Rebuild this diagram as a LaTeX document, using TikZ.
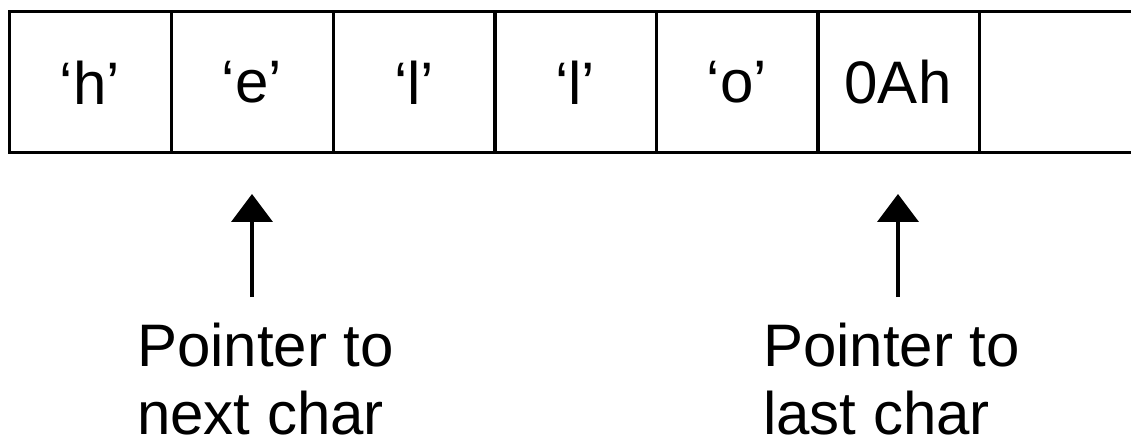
\documentclass[tikz,border=0pt]{standalone}
\usepackage{fontspec}
\setmainfont{Liberation Sans}
\usetikzlibrary{arrows.meta}
\begin{document}
\begin{tikzpicture}[x=1pt,y=-1pt,
  cell/.style={draw, line width=3pt, outer sep=0pt, minimum width=162pt, minimum height=141pt, inner sep=0pt, anchor=north west,
    font=\fontsize{60}{68}\selectfont},
  lbl/.style={inner sep=0pt, anchor=north west, align=left, font=\fontsize{60}{68}\selectfont},
  edge/.style={line width=3pt},
  ptr/.style={line width=4pt, -{Triangle[width=41pt,length=28pt]}}]
\useasboundingbox (0,0) rectangle (1131,443);
\node[cell] (c1) at (9,12) {‘h’};
\node[cell] (c2) at (171,12) {‘e’};
\node[cell] (c3) at (333,12) {‘l’};
\node[cell] (c4) at (494,12) {‘l’};
\node[cell] (c5) at (656,12) {‘o’};
\node[cell] (c6) at (817,12) {0Ah};
\coordinate (rim) at (1133,0);
\draw[edge] (c6.north east) -- (c6.north east -| rim);
\draw[edge] (c6.south east) -- (c6.south east -| rim);
\node[lbl] (l1) at (137,323) {Pointer to\\next char};
\node[lbl] (l2) at (763,323) {Pointer to\\last char};
\coordinate (t1) at (252,297);
\coordinate (h1) at (252,194);
\coordinate (t2) at (898,297);
\coordinate (h2) at (898,194);
\draw[ptr] (t1) -- (h1);
\draw[ptr] (t2) -- (h2);
\end{tikzpicture}
\end{document}
